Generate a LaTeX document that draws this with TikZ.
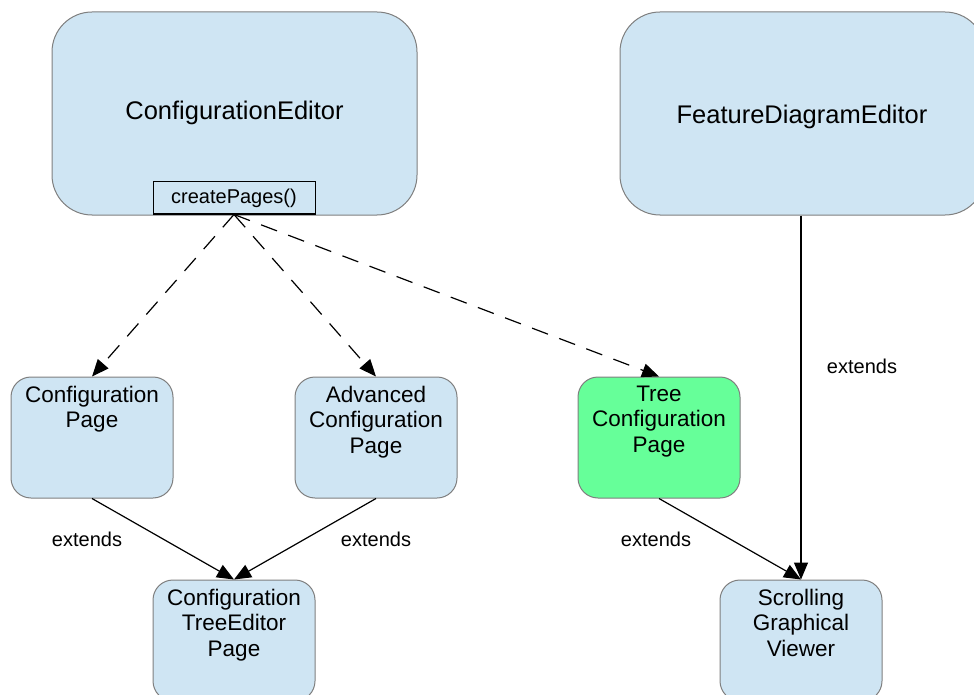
\documentclass[tikz,border=0pt]{standalone}
\usepackage{fontspec}
\setmainfont{Liberation Sans}
\usetikzlibrary{arrows.meta}

\definecolor{klasse}{HTML}{CFE5F3}
\definecolor{neu}{HTML}{66FF99}
\definecolor{rand}{HTML}{7F7F7F}

\tikzset{
    editor/.style={draw=rand, fill=klasse, line width=1pt, rounded corners=40pt,
        minimum width=365pt, minimum height=203pt, inner sep=0pt},
    seite/.style={draw=rand, fill=klasse, line width=1pt, rounded corners=20pt,
        minimum width=162pt, minimum height=121pt, inner sep=0pt},
    seitentext/.style={anchor=north, align=center, inner sep=0pt, yshift=-9pt,
        font=\fontsize{22.5}{25.5}\selectfont},
    erbt/.style={line width=1.2pt, -{Triangle[length=17pt,width=14pt]}},
    erzeugt/.style={line width=1.2pt, dash pattern=on 17pt off 12pt, -{Triangle[length=17pt,width=14pt]}},
    notiz/.style={font=\fontsize{20}{23}\selectfont, inner sep=0pt}
}

\begin{document}
\begin{tikzpicture}[x=1pt, y=-1pt]
        \useasboundingbox (0,0) rectangle (974,695);

        % editoren oben
        \node[editor] (confEditor) at (234.5,113.5) {};
        \node[font=\fontsize{25.5}{29}\selectfont] (confEditorText) at (234.5,113) {ConfigurationEditor};
        \node[draw=black, fill=klasse, line width=1pt, minimum width=162pt, minimum height=32pt,
            inner sep=0pt, font=\fontsize{20}{23}\selectfont] (createPages) at (234,198) {createPages()};
        \node[editor] (featEditor) at (802.5,113.5) {};
        \node[font=\fontsize{25.5}{29}\selectfont] (featEditorText) at (802,117) {FeatureDiagramEditor};

        % --------------------------------------------------

        % seiten
        \node[seite] (confPage) at (92,437.5) {};
        \node[seitentext] (confPageText) at (confPage.north) {Configuration\\Page};
        \node[seite] (advPage) at (376,437.5) {};
        \node[seitentext] (advPageText) at (advPage.north) {Advanced\\Configuration\\Page};
        \node[seite, fill=neu] (treePage) at (659,437.5) {};
        \node[seitentext] (treePageText) at (treePage.north) {Tree\\Configuration\\Page};

        % --------------------------------------------------

        % basisklassen unten
        \node[seite] (treeEditorPage) at (234,640.5) {};
        \node[seitentext] (treeEditorPageText) at (treeEditorPage.north) {Configuration\\TreeEditor\\Page};
        \node[seite] (viewer) at (801,640.5) {};
        \node[seitentext] (viewerText) at (viewer.north) {Scrolling\\Graphical\\Viewer};

        % --------------------------------------------------

        \draw[erzeugt] (createPages.south) -- (confPage.north);
        \draw[erzeugt] (createPages.south) -- (advPage.north);
        \draw[erzeugt] (createPages.south) -- (treePage.north);

        \draw[erbt] (confPage.south) -- (treeEditorPage.north);
        \draw[erbt] (advPage.south) -- (treeEditorPage.north);
        \draw[erbt] (treePage.south) -- (viewer.north);
        \draw[erbt] (featEditor.south -| viewer.north) -- (viewer.north);

        \node[notiz] (ext1) at (87,539) {extends};
        \node[notiz] (ext2) at (376,539) {extends};
        \node[notiz] (ext3) at (656,539) {extends};
        \node[notiz] (ext4) at (862,366) {extends};
    \end{tikzpicture}
\end{document}
